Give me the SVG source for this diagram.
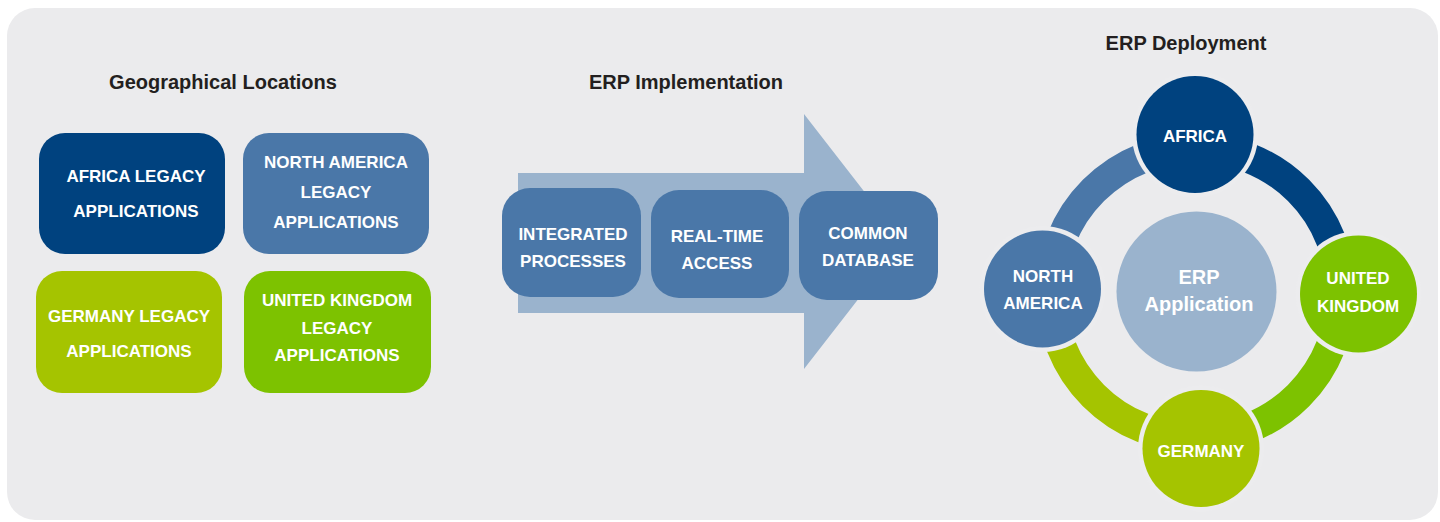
<svg xmlns="http://www.w3.org/2000/svg" width="1440" height="522" viewBox="0 0 1440 522">
  <style>
    .title { font-family: "Liberation Sans", Arial, sans-serif; font-weight: bold; font-size: 20px; fill: #231f20; text-anchor: middle; }
    .lbl { font-family: "Liberation Sans", Arial, sans-serif; font-weight: bold; font-size: 17px; fill: #ffffff; text-anchor: middle; }
    .big { font-size: 20px; }
    .navy { fill: #00427f; }
    .steel { fill: #4a77a8; }
    .lime { fill: #a5c400; }
    .green { fill: #7dc200; }
    .pale { fill: #9ab3cd; }
    .gap { fill: #ececee; }
    .ring { fill: none; stroke-width: 30; }
  </style>

  <!-- panel -->
  <rect x="0" y="0" width="1440" height="522" fill="#ffffff"/>
  <rect x="7" y="8" width="1431" height="512" rx="28" fill="#ebebed"/>

  <!-- section titles -->
  <text class="title" x="223" y="89">Geographical Locations</text>
  <text class="title" x="686" y="89">ERP Implementation</text>
  <text class="title" x="1186" y="50">ERP Deployment</text>

  <!-- legacy application boxes -->
  <g id="africa-legacy">
    <rect class="navy" x="39" y="133" width="186" height="121" rx="26"/>
    <text class="lbl" x="136" y="182">AFRICA LEGACY</text>
    <text class="lbl" x="136" y="217">APPLICATIONS</text>
  </g>
  <g id="north-america-legacy">
    <rect class="steel" x="243" y="133" width="186" height="121" rx="26"/>
    <text class="lbl" x="336" y="168">NORTH AMERICA</text>
    <text class="lbl" x="336" y="198">LEGACY</text>
    <text class="lbl" x="336" y="228">APPLICATIONS</text>
  </g>
  <g id="germany-legacy">
    <rect class="lime" x="36" y="271" width="186" height="122" rx="26"/>
    <text class="lbl" x="129" y="322">GERMANY LEGACY</text>
    <text class="lbl" x="129" y="357">APPLICATIONS</text>
  </g>
  <g id="uk-legacy">
    <rect class="green" x="244" y="271" width="187" height="122" rx="26"/>
    <text class="lbl" x="337" y="306">UNITED KINGDOM</text>
    <text class="lbl" x="337" y="334">LEGACY</text>
    <text class="lbl" x="337" y="361">APPLICATIONS</text>
  </g>

  <!-- implementation arrow -->
  <g id="implementation-arrow">
    <polygon class="pale" points="518,173 804,173 804,114 903,241.5 804,369 804,313 518,313"/>
  </g>
  <g id="integrated-processes">
    <rect class="steel" x="502" y="188" width="139" height="109" rx="28"/>
    <text class="lbl" x="573" y="240">INTEGRATED</text>
    <text class="lbl" x="573" y="267">PROCESSES</text>
  </g>
  <g id="real-time-access">
    <rect class="steel" x="651" y="190" width="138" height="108" rx="28"/>
    <text class="lbl" x="717" y="242">REAL-TIME</text>
    <text class="lbl" x="717" y="269">ACCESS</text>
  </g>
  <g id="common-database">
    <rect class="steel" x="799" y="191" width="139" height="109" rx="28"/>
    <text class="lbl" x="868" y="239">COMMON</text>
    <text class="lbl" x="868" y="266">DATABASE</text>
  </g>

  <!-- deployment ring segments between regions -->
  <g id="connectors">
    <path class="ring" stroke="#4a77a8" d="M 1051,293 A 145,145 0 0 1 1196,148"/>
    <path class="ring" stroke="#00427f" d="M 1196,148 A 145,145 0 0 1 1341,293"/>
    <path class="ring" stroke="#7dc200" d="M 1341,293 A 145,145 0 0 1 1196,438"/>
    <path class="ring" stroke="#a5c400" d="M 1196,438 A 145,145 0 0 1 1051,293"/>
  </g>

  <g id="erp-application">
    <circle class="pale" cx="1196.5" cy="291.5" r="80"/>
    <text class="lbl big" x="1199" y="284">ERP</text>
    <text class="lbl big" x="1199" y="311">Application</text>
  </g>
  <g id="africa">
    <circle class="gap" cx="1195" cy="134.5" r="63"/>
    <circle class="navy" cx="1195" cy="134.5" r="58.5"/>
    <text class="lbl" x="1195" y="142">AFRICA</text>
  </g>
  <g id="north-america">
    <circle class="gap" cx="1042.5" cy="289" r="63"/>
    <circle class="steel" cx="1042.5" cy="289" r="58.5"/>
    <text class="lbl" x="1043" y="282">NORTH</text>
    <text class="lbl" x="1043" y="309">AMERICA</text>
  </g>
  <g id="united-kingdom">
    <circle class="gap" cx="1358.5" cy="294" r="63"/>
    <circle class="green" cx="1358.5" cy="294" r="58.5"/>
    <text class="lbl" x="1358" y="284">UNITED</text>
    <text class="lbl" x="1358" y="312">KINGDOM</text>
  </g>
  <g id="germany">
    <circle class="gap" cx="1201" cy="448.5" r="63"/>
    <circle class="lime" cx="1201" cy="448.5" r="58.5"/>
    <text class="lbl" x="1201" y="457">GERMANY</text>
  </g>
</svg>
